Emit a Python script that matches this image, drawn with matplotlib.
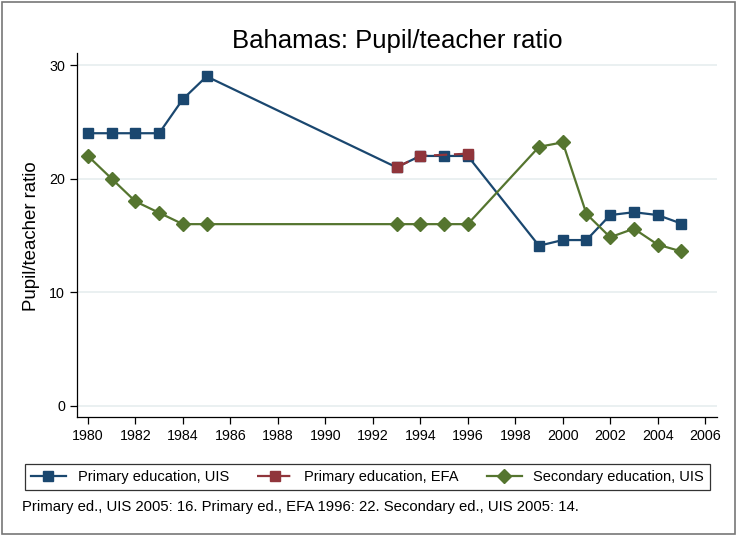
import matplotlib
matplotlib.use("Agg")
import matplotlib.pyplot as plt
from matplotlib.patches import Rectangle

plt.rcParams['font.family'] = ['Liberation Sans', 'DejaVu Sans']

years_uis = [1980, 1981, 1982, 1983, 1984, 1985, 1993, 1994, 1995, 1996,
             1999, 2000, 2001, 2002, 2003, 2004, 2005]
primary_uis = [24, 24, 24, 24, 27, 29, 21, 22, 22, 22,
               14.1, 14.6, 14.6, 16.8, 17.05, 16.8, 16.05]

years_efa = [1993, 1994, 1996]
primary_efa = [21.0, 22.0, 22.2]

years_sec = [1980, 1981, 1982, 1983, 1984, 1985, 1993, 1994, 1995, 1996,
             1999, 2000, 2001, 2002, 2003, 2004, 2005]
secondary_uis = [22, 20, 18, 17, 16, 16, 16, 16, 16, 16,
                 22.8, 23.2, 16.9, 14.85, 15.6, 14.2, 13.6]

xticks = list(range(1980, 2007, 2))
yticks = [0, 10, 20, 30]

title = "Bahamas: Pupil/teacher ratio"
ylabel = "Pupil/teacher ratio"
labels = ["Primary education, UIS", "Primary education, EFA", "Secondary education, UIS"]
note = "Primary ed., UIS 2005: 16. Primary ed., EFA 1996: 22. Secondary ed., UIS 2005: 14."

c_blue = "#1a476f"
c_red = "#90353b"
c_green = "#55752f"

W, H = 736, 535
fig = plt.figure(figsize=(W / 100, H / 100), dpi=100)
ax = fig.add_axes([77 / W, 1 - 417 / H, (717 - 77) / W, (417 - 53) / H])

l1, = ax.plot(years_uis, primary_uis, color=c_blue, lw=1.6, marker='s', ms=7.5,
              markeredgecolor=c_blue, zorder=3)
l2, = ax.plot(years_efa, primary_efa, color=c_red, lw=1.6, ls=(0, (6, 3)), marker='s', ms=7.5,
              markeredgecolor=c_red, zorder=4)
l3, = ax.plot(years_sec, secondary_uis, color=c_green, lw=1.6, marker='D', ms=7,
              markeredgecolor=c_green, zorder=5)

ax.set_xlim(1979.54, 2006.5)
ax.set_ylim(-0.97, 31.06)
ax.set_xticks(xticks)
ax.set_yticks(yticks)
ax.tick_params(labelsize=10.3, length=5, width=0.9, direction='out', colors='black')
ax.yaxis.grid(True, color='#e6eeef', lw=1.2)
ax.set_axisbelow(True)
for s in ['top', 'right']:
    ax.spines[s].set_visible(False)
for s in ['left', 'bottom']:
    ax.spines[s].set_linewidth(0.9)

fig.text(32 / W, 1 - 236 / H, ylabel, fontsize=13.4, rotation=90, ha='center', va='center')
fig.text(397 / W, 1 - 48 / H, title, fontsize=18.5, ha='center', va='baseline')

leg = fig.legend([l1, l2, l3], labels, loc='lower left',
                 bbox_to_anchor=(25 / W, 1 - 490 / H, (710 - 25) / W, (490 - 456) / H),
                 mode='expand', ncol=3, fontsize=10.5, frameon=True, fancybox=False,
                 edgecolor='black', handlelength=2.4, borderaxespad=0, handletextpad=0.8,
                 columnspacing=1.5)
leg.get_frame().set_linewidth(0.9)

fig.text(22 / W, 1 - 507 / H, note, fontsize=10.7, va='center', ha='left')

fig.patches.append(Rectangle((1.5 / W, 1.5 / H), (W - 3) / W, (H - 3) / H,
                             transform=fig.transFigure, fill=False,
                             edgecolor='#777777', lw=1.2))

fig.savefig("out.png", dpi=100)
